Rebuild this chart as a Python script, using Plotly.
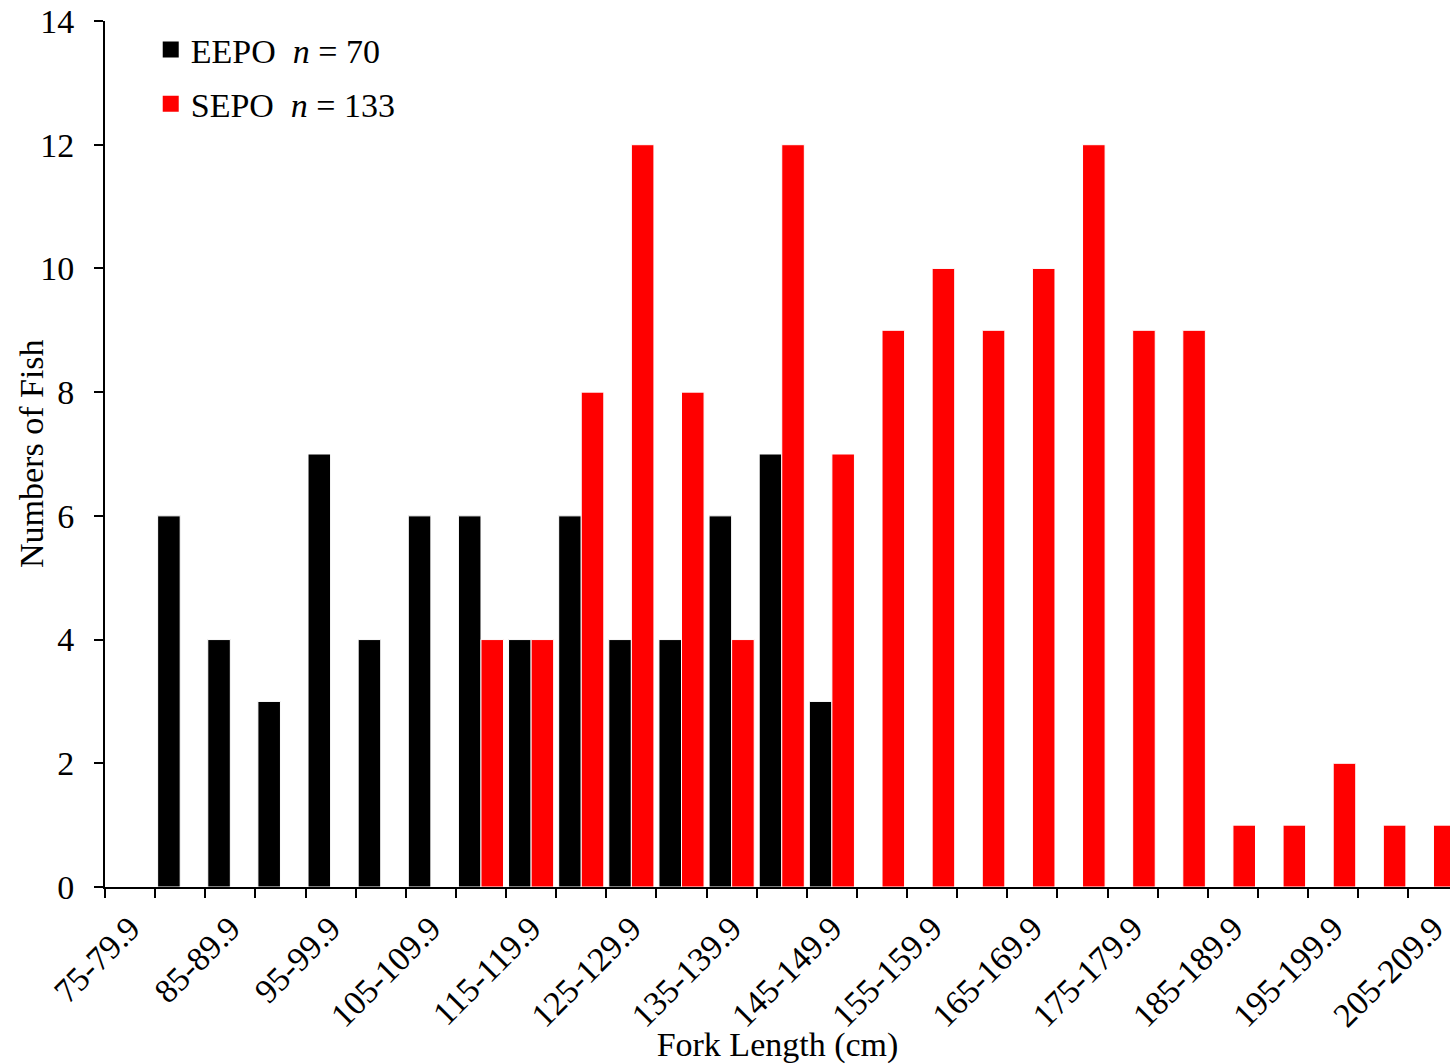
import plotly.graph_objects as go

# Fork-length classes (cm), 5 cm bins
length_classes = [
    "75-79.9", "80-84.9", "85-89.9", "90-94.9", "95-99.9", "100-104.9",
    "105-109.9", "110-114.9", "115-119.9", "120-124.9", "125-129.9",
    "130-134.9", "135-139.9", "140-144.9", "145-149.9", "150-154.9",
    "155-159.9", "160-164.9", "165-169.9", "170-174.9", "175-179.9",
    "180-184.9", "185-189.9", "190-194.9", "195-199.9", "200-204.9",
    "205-209.9",
]

# Number of fish per class
eepo_counts = [0, 6, 4, 3, 7, 4, 6, 6, 4, 6, 4, 4, 6, 7, 3,
               0, 0, 0, 0, 0, 0, 0, 0, 0, 0, 0, 0]
sepo_counts = [0, 0, 0, 0, 0, 0, 0, 4, 4, 8, 12, 8, 4, 12, 7,
               9, 10, 9, 10, 12, 9, 9, 1, 1, 2, 1, 1]

eepo_label = "EEPO\u00a0\u00a0<i>n</i> = 70"
sepo_label = "SEPO\u00a0\u00a0<i>n</i> = 133"
y_title = "Numbers of Fish"
x_title = "Fork Length (cm)"

FONT = "Liberation Serif, Times New Roman, serif"
FS = 34
W, H = 1450, 1064
ML, MT, MB = 105, 21, 177
positions = list(range(len(length_classes)))

fig = go.Figure()
fig.add_trace(go.Bar(
    x=positions, y=eepo_counts, name="EEPO",
    marker=dict(color="#000000", line=dict(color="white", width=1)),
    showlegend=False,
))
fig.add_trace(go.Bar(
    x=positions, y=sepo_counts, name="SEPO",
    marker=dict(color="#ff0000", line=dict(color="white", width=1)),
    showlegend=False,
))

# Legend swatches
fig.add_trace(go.Scatter(
    x=[None], y=[None], mode="markers", name=eepo_label,
    marker=dict(symbol="square", size=17, color="#000000"),
    legendgroup="a",
))
fig.add_trace(go.Scatter(
    x=[None], y=[None], mode="markers", name=sepo_label,
    marker=dict(symbol="square", size=17, color="#ff0000"),
    legendgroup="b",
))

# Vertical axis title, placed just left of the tick labels
plot_w = W - ML
fig.add_annotation(
    text=y_title, textangle=-90, showarrow=False,
    xref="paper", yref="paper",
    x=(31 - ML) / plot_w, y=0.5, xanchor="center", yanchor="middle",
    font=dict(family=FONT, size=FS, color="black"),
)

label_idx = positions[::2]
fig.update_layout(
    width=W, height=H,
    margin=dict(l=ML, r=0, t=MT, b=MB, autoexpand=False),
    paper_bgcolor="white", plot_bgcolor="white",
    font=dict(family=FONT, size=FS, color="black"),
    barmode="group", bargap=0.1, bargroupgap=0.0,
    legend=dict(
        x=0.034, y=1.0, xanchor="left", yanchor="top",
        bgcolor="rgba(0,0,0,0)", font=dict(family=FONT, size=FS),
        traceorder="grouped", tracegroupgap=7, itemwidth=30,
    ),
    xaxis=dict(
        range=[-0.5, 26.33],
        tickmode="array", tickvals=label_idx,
        ticktext=[length_classes[i] for i in label_idx],
        tickangle=-45, ticks="", ticklabeloverflow="allow",
        ticklabelstandoff=6,
        showline=True, linecolor="black", linewidth=2,
        showgrid=False, zeroline=False, automargin=True,
        minor=dict(tickmode="array",
                   tickvals=[i - 0.5 for i in positions],
                   ticks="outside", ticklen=9, tickwidth=2,
                   tickcolor="black", showgrid=False),
        title=dict(text=x_title, standoff=10,
                   font=dict(family=FONT, size=FS)),
        tickfont=dict(family=FONT, size=FS),
    ),
    yaxis=dict(
        range=[0, 14], dtick=2, tick0=0,
        ticks="outside", ticklen=9, tickwidth=2, tickcolor="black",
        showline=True, linecolor="black", linewidth=2,
        showgrid=False, zeroline=False,
        ticklabelstandoff=13,
        tickfont=dict(family=FONT, size=FS),
    ),
)

fig.write_html("out.html")
